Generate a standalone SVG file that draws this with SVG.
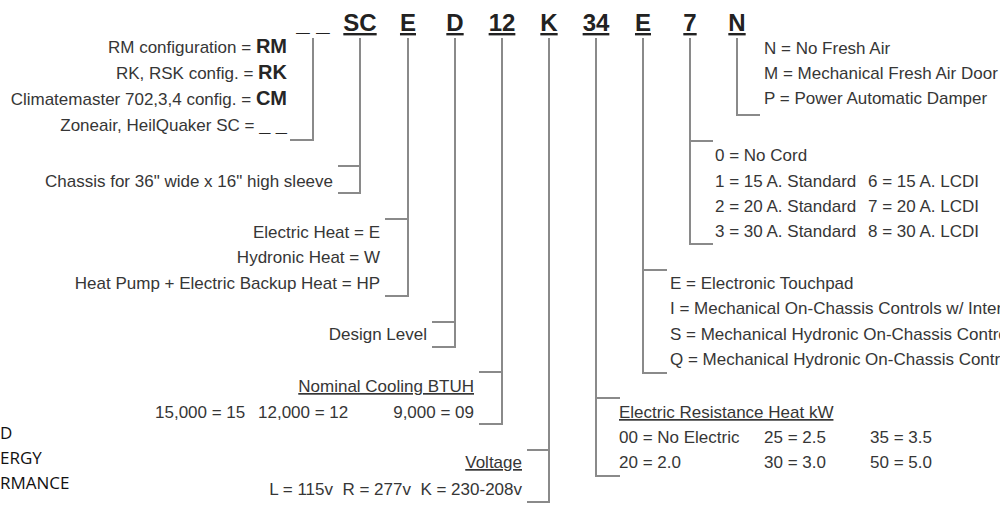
<svg xmlns="http://www.w3.org/2000/svg" width="1000" height="513" viewBox="0 0 1000 513">
<style>
.t{font-family:"Liberation Sans",Arial,sans-serif;font-size:17px;fill:#363636}
.b{font-weight:bold;font-size:20px;fill:#262626}
.code{font-family:"Liberation Sans",Arial,sans-serif;font-size:24px;font-weight:bold;fill:#222;text-anchor:middle;text-decoration:underline}
.e{text-anchor:end}
.u{text-decoration:underline}
.cut{font-family:"Open Sans","Noto Sans",sans-serif;font-size:17px;fill:#111}
.ln{fill:none;stroke:#8a8a8a;stroke-width:2}
</style>
<rect width="1000" height="513" fill="#fff"/>
<g id="code">
<text class="code" x="313" y="31" style="text-decoration:none">_ _</text>
<text class="code" x="360" y="31">SC</text>
<text class="code" x="408" y="31">E</text>
<text class="code" x="455" y="31">D</text>
<text class="code" x="502" y="31">12</text>
<text class="code" x="549" y="31">K</text>
<text class="code" x="596" y="31">34</text>
<text class="code" x="643" y="31">E</text>
<text class="code" x="690" y="31">7</text>
<text class="code" x="737" y="31">N</text>
</g>
<g id="connectors" class="ln">
<path d="M313,38 V140 H290"/>
<path d="M360,38 V193 H338 M338,166 H360"/>
<path d="M408,38 V296 H385 M385,219 H408"/>
<path d="M455,38 V347 H432 M432,322 H455"/>
<path d="M502,38 V424 H479 M479,372 H502"/>
<path d="M549,38 V502 H527 M527,450 H549"/>
<path d="M596,38 V476 H620 M596,398 H620"/>
<path d="M643,38 V373 H667 M643,270 H667"/>
<path d="M690,38 V244 H713 M690,141 H713"/>
<path d="M737,38 V115 H760"/>
</g>
<g id="config">
<text class="t e" x="287" y="53">RM configuration = <tspan class="b">RM</tspan></text>
<text class="t e" x="287" y="79">RK, RSK config. = <tspan class="b">RK</tspan></text>
<text class="t e" x="287" y="105">Climatemaster 702,3,4 config. = <tspan class="b">CM</tspan></text>
<text class="t e" x="287" y="131">Zoneair, HeilQuaker SC =  <tspan class="b">_ _</tspan></text>
</g>
<g id="chassis">
<text class="t e" x="333" y="187">Chassis for 36" wide x 16" high sleeve</text>
</g>
<g id="heat">
<text class="t e" x="380" y="238">Electric Heat = E</text>
<text class="t e" x="380" y="263">Hydronic Heat = W</text>
<text class="t e" x="380" y="289">Heat Pump + Electric Backup Heat = HP</text>
</g>
<g id="design">
<text class="t e" x="427" y="340">Design Level</text>
</g>
<g id="cooling">
<text class="t e u" x="474" y="392">Nominal Cooling BTUH</text>
<text class="t" x="155" y="418">15,000 = 15</text>
<text class="t" x="258" y="418">12,000 = 12</text>
<text class="t e" x="474" y="418">9,000 = 09</text>
</g>
<g id="voltage">
<text class="t e u" x="522" y="468">Voltage</text>
<text class="t e" x="522" y="495" xml:space="preserve">L = 115v  R = 277v  K = 230-208v</text>
</g>
<g id="resistance">
<text class="t u" x="619" y="418">Electric Resistance Heat kW</text>
<text class="t" x="619" y="443">00 = No Electric</text>
<text class="t" x="764" y="443">25 = 2.5</text>
<text class="t" x="870" y="443">35 = 3.5</text>
<text class="t" x="619" y="468">20 = 2.0</text>
<text class="t" x="764" y="468">30 = 3.0</text>
<text class="t" x="870" y="468">50 = 5.0</text>
</g>
<g id="controls">
<text class="t" x="670" y="289">E = Electronic Touchpad</text>
<text class="t" x="670" y="314">I = Mechanical On-Chassis Controls w/ Inter</text>
<text class="t" x="670" y="340">S = Mechanical Hydronic On-Chassis Contro</text>
<text class="t" x="670" y="365">Q = Mechanical Hydronic On-Chassis Contro</text>
</g>
<g id="cord">
<text class="t" x="715" y="161">0 = No Cord</text>
<text class="t" x="715" y="187">1 = 15 A. Standard</text>
<text class="t" x="868" y="187">6 = 15 A. LCDI</text>
<text class="t" x="715" y="212">2 = 20 A. Standard</text>
<text class="t" x="868" y="212">7 = 20 A. LCDI</text>
<text class="t" x="715" y="237">3 = 30 A. Standard</text>
<text class="t" x="868" y="237">8 = 30 A. LCDI</text>
</g>
<g id="freshair">
<text class="t" x="764" y="54">N = No Fresh Air</text>
<text class="t" x="764" y="79">M = Mechanical Fresh Air Door</text>
<text class="t" x="764" y="104">P = Power Automatic Damper</text>
</g>
<g id="cut">
<text class="cut" x="0" y="439">D</text>
<text class="cut" x="0" y="464">ERGY</text>
<text class="cut" x="0" y="489">RMANCE</text>
</g>
</svg>
